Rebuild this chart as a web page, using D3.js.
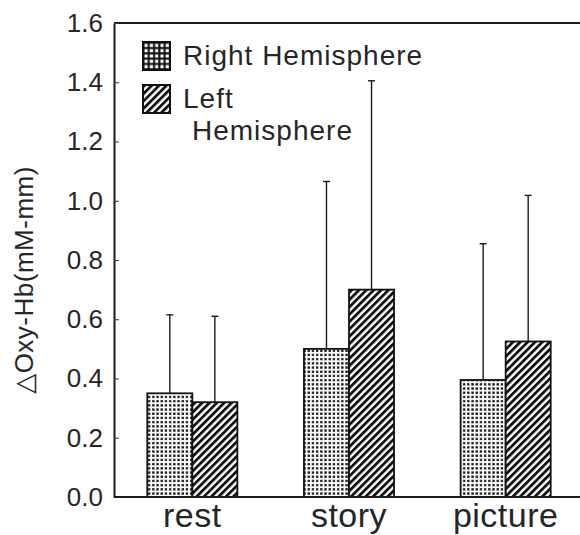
<!DOCTYPE html>
<html>
<head>
<meta charset="utf-8">
<script src="https://cdn.jsdelivr.net/npm/d3@7"></script>
<style>
	body { margin: 0; background: #fff; }
	svg { display: block; }
	text { font-family: "Liberation Sans", "DejaVu Sans", sans-serif; fill: #262626; }
</style>
</head>
<body>
<script>
"use strict";

// chart data
let conditions  = ["rest", "story", "picture"];
let seriesNames = ["Right Hemisphere", "Left Hemisphere"];
let rightMean   = [0.35, 0.50, 0.395];
let leftMean    = [0.32, 0.70, 0.525];
let rightSD     = [0.265, 0.565, 0.46];
let leftSD      = [0.29, 0.705, 0.493];
let yTicks      = [0, 0.2, 0.4, 0.6, 0.8, 1.0, 1.2, 1.4, 1.6];

function draw () {

	let width = 580,
		height = 535;

	let plotLeft = 114,
		plotRight = 584,
		plotTop = 23,
		plotBottom = 497;

	let svg = d3.select("body")
		.append("svg")
			.attr("width", width)
			.attr("height", height);

	// fill patterns
	let defs = svg.append("defs");

	let dots = defs.append("pattern")
		.attr("id", "dots")
		.attr("patternUnits", "userSpaceOnUse")
		.attr("width", 4.2)
		.attr("height", 4.2);
	dots.append("rect").attr("width", 4.2).attr("height", 4.2).attr("fill", "#fff");
	dots.append("rect").attr("x", 1).attr("y", 1).attr("width", 2.3).attr("height", 2.3).attr("fill", "#111");

	let dotsBig = defs.append("pattern")
		.attr("id", "dotsBig")
		.attr("patternUnits", "userSpaceOnUse")
		.attr("width", 5.3)
		.attr("height", 5.3);
	dotsBig.append("rect").attr("width", 5.3).attr("height", 5.3).attr("fill", "#111");
	dotsBig.append("rect").attr("x", 1.4).attr("y", 1.4).attr("width", 3.2).attr("height", 3.2).attr("fill", "#fff");

	let hatch = defs.append("pattern")
		.attr("id", "hatch")
		.attr("patternUnits", "userSpaceOnUse")
		.attr("width", 5.2)
		.attr("height", 5.2)
		.attr("patternTransform", "rotate(45)");
	hatch.append("rect").attr("width", 5.2).attr("height", 5.2).attr("fill", "#fff");
	hatch.append("rect").attr("width", 2.8).attr("height", 5.2).attr("fill", "#111");

	let fills = ["url(#dots)", "url(#hatch)"];
	let legendFills = ["url(#dotsBig)", "url(#hatch)"];

	// scales
	let xScale = d3.scaleBand()
		.domain(conditions)
		.range([plotLeft, plotRight])
		.paddingInner(0.425)
		.paddingOuter(0.2125);

	let xInner = d3.scaleBand()
		.domain([0, 1])
		.range([0, xScale.bandwidth()]);

	let yScale = d3.scaleLinear()
		.domain([0, 1.6])
		.range([plotBottom, plotTop]);

	// bar data
	let barData = [];
	for (let i = 0; i < conditions.length; i++) {
		barData.push({cond: conditions[i], s: 0, mean: rightMean[i], sd: rightSD[i]});
		barData.push({cond: conditions[i], s: 1, mean: leftMean[i], sd: leftSD[i]});
	}

	// error bars (behind bars)
	let errG = svg.append("g")
		.attr("stroke", "#1a1a1a")
		.attr("stroke-width", 1.4);

	barData.forEach(function (d) {
		let cx = xScale(d.cond) + xInner(d.s) + xInner.bandwidth() / 2;
		errG.append("line")
			.attr("x1", cx).attr("x2", cx)
			.attr("y1", yScale(d.mean))
			.attr("y2", yScale(d.mean + d.sd));
		errG.append("line")
			.attr("x1", cx - 3.5).attr("x2", cx + 3.5)
			.attr("y1", yScale(d.mean + d.sd))
			.attr("y2", yScale(d.mean + d.sd));
	});

	// bars
	svg.append("g").selectAll("rect")
		.data(barData)
		.enter()
		.append("rect")
			.attr("x", function (d) { return xScale(d.cond) + xInner(d.s); })
			.attr("y", function (d) { return yScale(d.mean); })
			.attr("width", xInner.bandwidth())
			.attr("height", function (d) { return yScale(0) - yScale(d.mean); })
			.attr("fill", function (d) { return fills[d.s]; })
			.attr("stroke", "#111")
			.attr("stroke-width", 1.8);

	// frame: top line and axes
	svg.append("line")
		.attr("x1", plotLeft).attr("x2", width + 10)
		.attr("y1", plotTop).attr("y2", plotTop)
		.attr("stroke", "#1a1a1a")
		.attr("stroke-width", 2);

	let yAxis = d3.axisLeft(yScale)
		.tickValues(yTicks)
		.tickFormat(d3.format(".1f"))
		.tickSizeInner(-5)
		.tickSizeOuter(0)
		.tickPadding(11);

	let yG = svg.append("g")
		.attr("transform", "translate(" + plotLeft + ",0)")
		.call(yAxis);
	yG.select(".domain").attr("stroke", "#1a1a1a").attr("stroke-width", 2);
	yG.selectAll(".tick line").attr("stroke", "#333").attr("stroke-width", 1);
	yG.selectAll(".tick text")
		.style("font-family", "Liberation Sans, sans-serif")
		.style("font-size", "26px")
		.attr("fill", "#262626");

	let xAxis = d3.axisBottom(xScale)
		.tickSize(0);

	let xG = svg.append("g")
		.attr("transform", "translate(0," + plotBottom + ")")
		.call(xAxis);
	xG.select(".domain")
		.attr("d", "M" + plotLeft + ",0H" + (width + 10))
		.attr("stroke", "#1a1a1a")
		.attr("stroke-width", 2);
	xG.selectAll(".tick text")
		.attr("y", 30)
		.attr("dy", 0)
		.style("font-family", "Liberation Sans, sans-serif")
		.style("font-size", "34px")
		.style("letter-spacing", "0.5px")
		.attr("fill", "#262626");

	// y axis title
	svg.append("text")
		.attr("transform", "translate(33,280) rotate(-90)")
		.attr("text-anchor", "middle")
		.style("font-size", "26px")
		.style("letter-spacing", "0.5px")
		.text("△Oxy-Hb(mM-mm)");

	// legend
	let legend = svg.append("g")
		.style("font-size", "28px")
		.style("letter-spacing", "1px");

	legend.selectAll("rect")
		.data(seriesNames)
		.enter()
		.append("rect")
			.attr("x", 143)
			.attr("y", function (d, i) { return 42 + i * 43; })
			.attr("width", 27)
			.attr("height", 28)
			.attr("fill", function (d, i) { return legendFills[i]; })
			.attr("stroke", "#111")
			.attr("stroke-width", 2);

	legend.append("text")
		.attr("x", 183).attr("y", 65)
		.text(seriesNames[0]);

	let leftWords = seriesNames[1].split(" ");
	legend.append("text")
		.attr("x", 183).attr("y", 108)
		.text(leftWords[0]);
	legend.append("text")
		.attr("x", 192).attr("y", 140)
		.text(leftWords[1]);
};

draw();
</script>
</body>
</html>
